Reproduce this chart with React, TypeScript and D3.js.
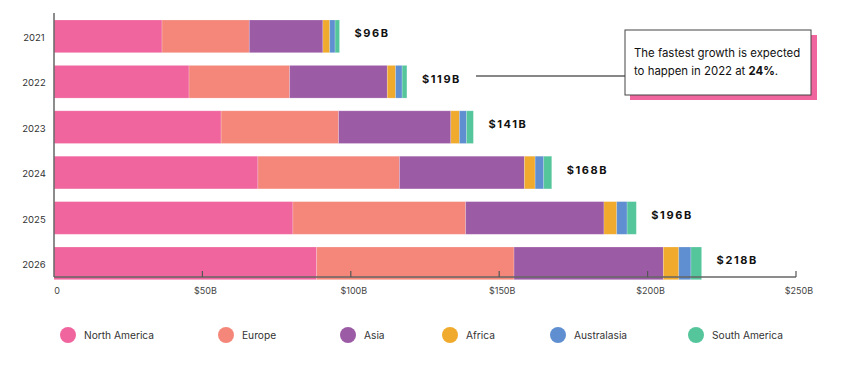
import React from "react";
import * as d3 from "d3";

const years = ["2021", "2022", "2023", "2024", "2025", "2026"];
const regions = ["North America", "Europe", "Asia", "Africa", "Australasia", "South America"];
const northAmerica = [36.4, 45.5, 56.3, 68.7, 80.5, 88.5];
const europe = [29.4, 33.9, 39.6, 47.7, 58.2, 66.5];
const asia = [24.8, 32.9, 37.8, 42.1, 46.6, 50.3];
const africa = [2.3, 2.8, 2.9, 3.6, 4.3, 5.2];
const australasia = [1.8, 2.2, 2.4, 2.9, 3.5, 4.1];
const southAmerica = [1.5, 1.6, 2.3, 2.7, 3.1, 3.6];
const totalLabels = ["$96B", "$119B", "$141B", "$168B", "$196B", "$218B"];
const xTicks = [0, 50, 100, 150, 200, 250];
const xTickLabels = ["0", "$50B", "$100B", "$150B", "$200B", "$250B"];
const colors = ["#F0659D", "#F4877A", "#9C5BA5", "#F0AA2D", "#5F8FD0", "#55C59C"];
const legendX = [68, 226, 348, 450, 558, 696];

export default function App() {
  const W = 865, H = 365;
  const font = "Inter, 'Noto Sans', sans-serif";
  const x = d3.scaleLinear().domain([0, 250]).range([54, 796]);
  const y = d3.scaleBand().domain(years).range([20, 279.7]).paddingInner(0.28).paddingOuter(0);
  const rows = years.map((yr, i) => ({
    year: yr,
    "North America": northAmerica[i],
    Europe: europe[i],
    Asia: asia[i],
    Africa: africa[i],
    Australasia: australasia[i],
    "South America": southAmerica[i],
  }));
  const stack = d3.stack<any>().keys(regions)(rows);
  const axisY = 277;
  return (
    <svg width={W} height={H} style={{ position: "absolute", left: 0, top: 0, background: "#fff" }}>
      {stack.map((layer, li) => (
        <g key={regions[li]} fill={colors[li]}>
          {layer.map((d, i) => (
            <rect key={i} x={x(d[0])} y={y(years[i])} width={x(d[1]) - x(d[0])} height={y.bandwidth()}
              stroke="#fff" strokeOpacity={0.25} strokeWidth={0.8} />
          ))}
        </g>
      ))}
      {years.map((yr, i) => {
        const tot = stack[stack.length - 1][i][1];
        return (
          <text key={yr} x={x(tot) + 15} y={(y(yr) as number) + y.bandwidth() / 2 - 2}
            dominantBaseline="middle" fontFamily={font} fontWeight={700} fontSize={11}
            letterSpacing={1.6} fill="#111">{totalLabels[i]}</text>
        );
      })}
      {years.map((yr) => (
        <text key={yr} x={34} y={(y(yr) as number) + y.bandwidth() / 2 + 2} textAnchor="middle"
          dominantBaseline="middle" fontFamily={font} fontSize={9.5} fill="#333">{yr}</text>
      ))}
      <line x1={54} x2={54} y1={13} y2={axisY} stroke="#666" strokeWidth={1.5} />
      <line x1={54} x2={796} y1={axisY} y2={axisY} stroke="#666" strokeWidth={1.5} />
      {xTicks.map((t, i) => (
        <g key={t}>
          {i > 0 && <line x1={x(t)} x2={x(t)} y1={axisY - 6} y2={axisY} stroke="#555" strokeWidth={1.2} />}
          <text x={x(t) + 3} y={292} textAnchor="middle" dominantBaseline="middle" fontFamily={font}
            fontSize={9} fill="#444">{xTickLabels[i]}</text>
        </g>
      ))}
      <line x1={476} x2={625} y1={76} y2={76} stroke="#111" strokeWidth={1.2} />
      <rect x={630} y={35} width={187} height={65} fill="#F0659D" />
      <rect x={625} y={30} width={186} height={65} fill="#fff" stroke="#444" strokeWidth={1} />
      <text x={634} y={57} fontFamily={font} fontSize={11.4} fill="#111">The fastest growth is expected</text>
      <text x={634} y={75} fontFamily={font} fontSize={11.4} fill="#111">
        to happen in 2022 at <tspan fontWeight={700}>24%</tspan>.
      </text>
      {regions.map((r, i) => (
        <g key={r}>
          <circle cx={legendX[i]} cy={335} r={8} fill={colors[i]} />
          <text x={legendX[i] + 16} y={336} dominantBaseline="middle" fontFamily={font} fontSize={10.2} fill="#333">{r}</text>
        </g>
      ))}
    </svg>
  );
}
